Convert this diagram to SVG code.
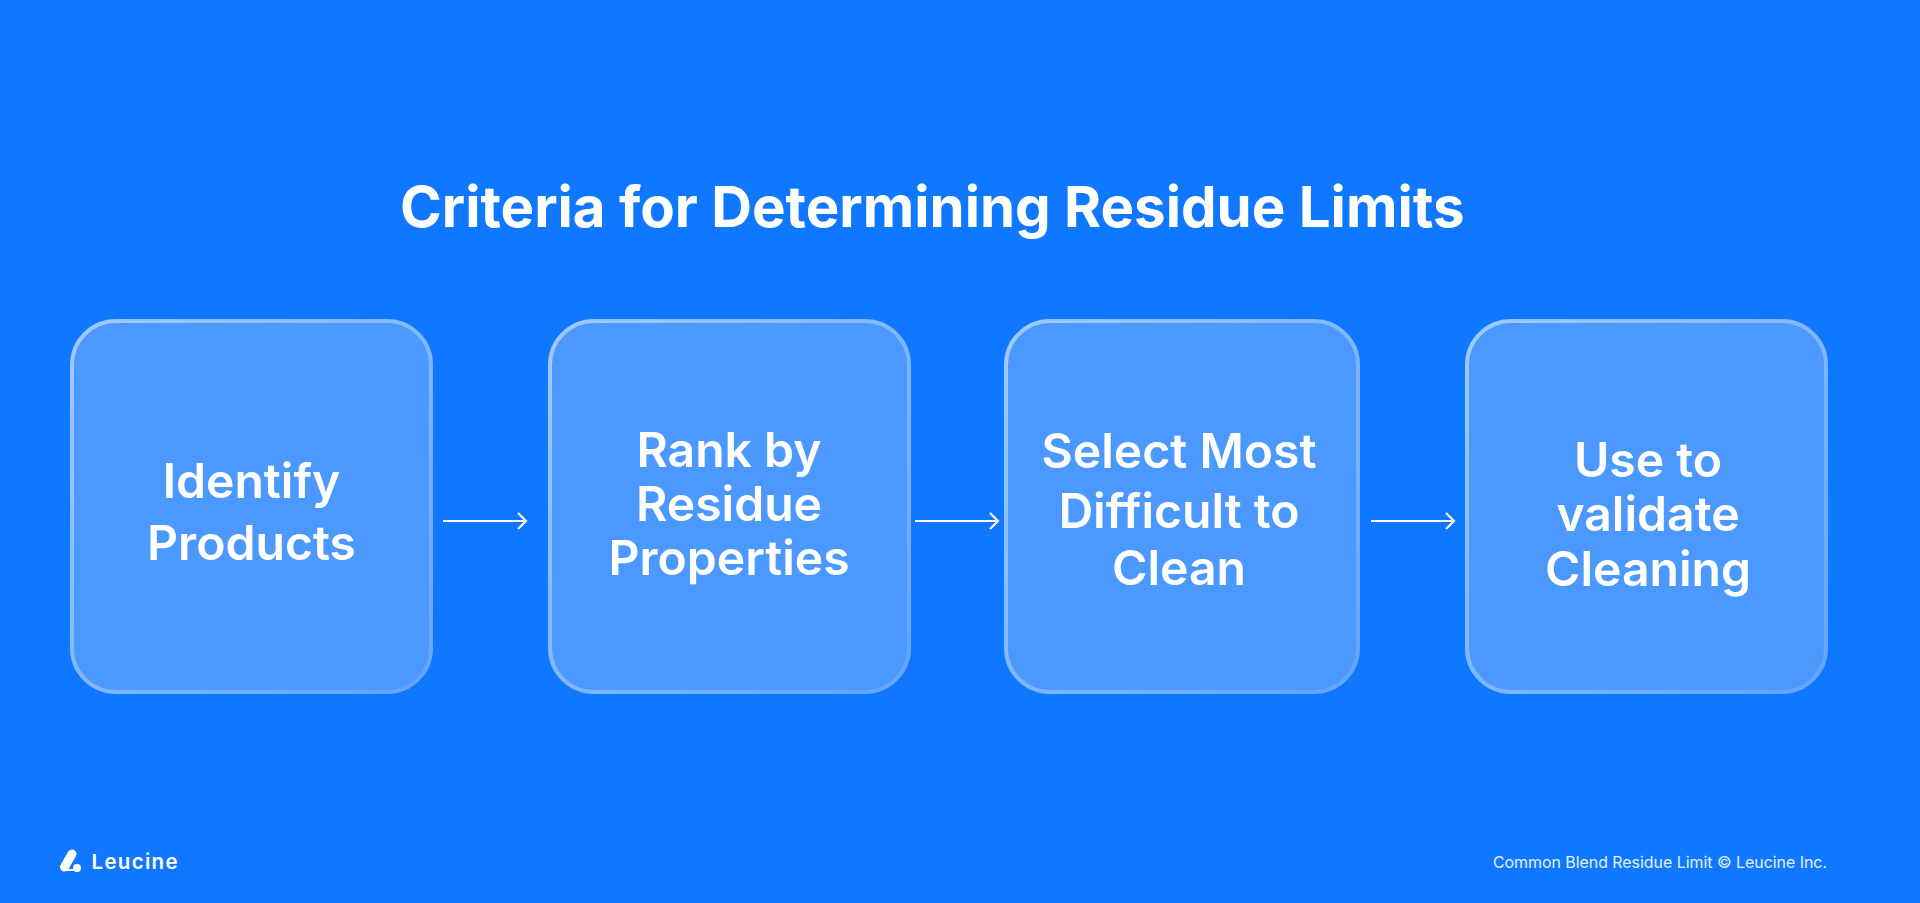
<svg xmlns="http://www.w3.org/2000/svg" width="1920" height="903" viewBox="0 0 1920 903">
<style>
text{font-family:Inter,"Liberation Sans",sans-serif;fill:#fff}
.t{font-size:48.100px;font-weight:600;text-anchor:middle}
.b{fill:#4b98ff;stroke:url(#g);stroke-width:4}
.c{fill:none;stroke:#fff;stroke-width:2}
</style>
<defs>
<linearGradient id="g" x1="0" y1="0" x2="1" y2="1"><stop offset="0" stop-color="#a0caff"/><stop offset="1" stop-color="#62a4ff"/></linearGradient>
<marker id="a" markerUnits="userSpaceOnUse" markerWidth="12" markerHeight="18" refX="10" refY="9" orient="auto"><path d="M2 1L10 9L2 17" fill="none" stroke="#fff" stroke-width="2"/></marker>
</defs>
<rect width="1920" height="903" fill="#1078ff"/>
<text id="title" x="400" y="227" font-size="56.450" font-weight="700">Criteria for Determining Residue Limits</text>
<g id="node1"><rect class="b" x="72" y="321" width="359" height="371" rx="44"/><text class="t" x="251.500" y="498">Identify</text><text class="t" x="251.500" y="560">Products</text></g>
<g id="node2"><rect class="b" x="550" y="321" width="359" height="371" rx="44"/><text class="t" x="729" y="467">Rank by</text><text class="t" x="729" y="521">Residue</text><text class="t" x="729" y="575">Properties</text></g>
<g id="node3"><rect class="b" x="1006" y="321" width="352" height="371" rx="44"/><text class="t" x="1179" y="468">Select Most</text><text class="t" x="1179" y="528">Difficult to</text><text class="t" x="1179" y="585">Clean</text></g>
<g id="node4"><rect class="b" x="1467" y="321" width="359" height="371" rx="44"/><text class="t" x="1648" y="477">Use to</text><text class="t" x="1648" y="531">validate</text><text class="t" x="1648" y="586">Cleaning</text></g>
<g id="connectors">
<path class="c" d="M443 521H526" marker-end="url(#a)"/>
<path class="c" d="M915 521H998" marker-end="url(#a)"/>
<path class="c" d="M1371 521H1454" marker-end="url(#a)"/>
</g>
<g id="logo"><path d="M72 854L64.500 867" stroke="#fff" stroke-width="9" stroke-linecap="round" fill="none"/><path d="M66 870H76" stroke="#fff" stroke-width="2" fill="none"/><circle cx="77" cy="868" r="4" fill="#fff"/><text x="91.500" y="868.500" font-size="20.500" font-weight="600" letter-spacing="1.300">Leucine</text></g>
<text id="footer" x="1827" y="867.500" font-size="15.900" font-weight="400" text-anchor="end" style="fill:#e4f0ff">Common Blend Residue Limit © Leucine Inc.</text>
</svg>
